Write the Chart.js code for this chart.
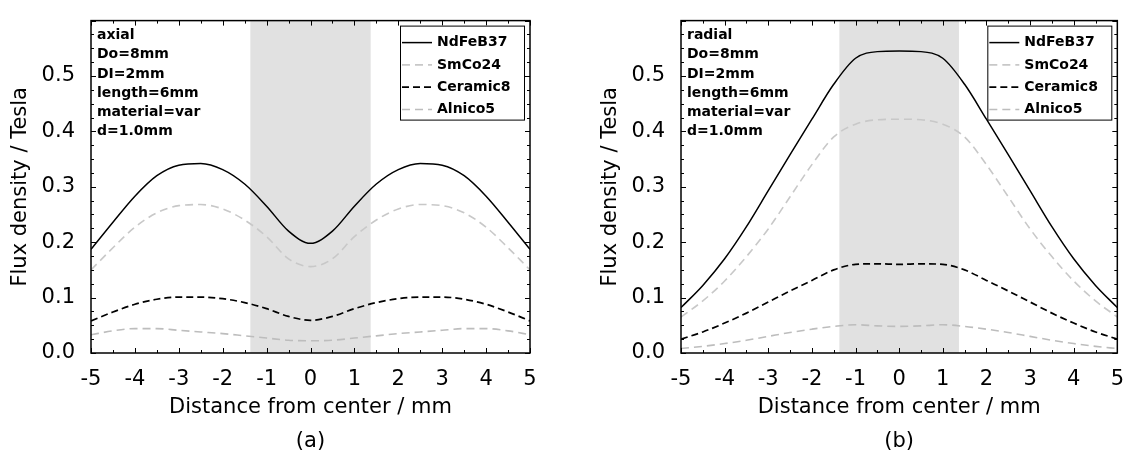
<!DOCTYPE html>
<html>
<head>
<meta charset="utf-8">
<script src="https://cdn.jsdelivr.net/npm/chart.js@4.4.0/dist/chart.umd.min.js"></script>
<style>
  html, body { margin: 0; padding: 0; background: #fff; }
  .panel { position: absolute; top: 0; height: 461px; }
  #wrap-a { left: 0; width: 560px; }
  #wrap-b { left: 590px; width: 540px; }
</style>
</head>
<body>
<div class="panel" id="wrap-a"><canvas id="chart-a"></canvas></div>
<div class="panel" id="wrap-b"><canvas id="chart-b"></canvas></div>
<script>
// distance from center (mm)
var POSITIONS = [-5, -4.5, -4, -3.5, -3, -2.5, -2, -1.5, -1, -0.5, 0, 0.5, 1, 1.5, 2, 2.5, 3, 3.5, 4, 4.5, 5];

// (a) axial
var AXIAL_NDFEB37 = [0.187, 0.236, 0.283, 0.320, 0.339, 0.342, 0.331, 0.305, 0.265, 0.220, 0.198, 0.220, 0.265, 0.305, 0.331, 0.342, 0.339, 0.320, 0.283, 0.236, 0.187];
var AXIAL_SMCO24 = [0.150, 0.190, 0.227, 0.253, 0.266, 0.268, 0.260, 0.240, 0.210, 0.170, 0.156, 0.170, 0.210, 0.240, 0.260, 0.268, 0.266, 0.253, 0.227, 0.190, 0.150];
var AXIAL_CERAMIC8 = [0.058, 0.074, 0.088, 0.097, 0.101, 0.101, 0.098, 0.091, 0.080, 0.066, 0.059, 0.066, 0.080, 0.091, 0.098, 0.101, 0.101, 0.097, 0.088, 0.074, 0.058];
var AXIAL_ALNICO5 = [0.033, 0.040, 0.044, 0.044, 0.041, 0.038, 0.035, 0.031, 0.027, 0.023, 0.022, 0.023, 0.027, 0.031, 0.035, 0.038, 0.041, 0.044, 0.044, 0.040, 0.033];

// (b) radial
var RADIAL_NDFEB37 = [0.082, 0.122, 0.170, 0.228, 0.293, 0.358, 0.422, 0.485, 0.532, 0.544, 0.545, 0.544, 0.532, 0.485, 0.422, 0.358, 0.293, 0.228, 0.170, 0.122, 0.082];
var RADIAL_SMCO24 = [0.065, 0.094, 0.130, 0.174, 0.224, 0.282, 0.340, 0.390, 0.413, 0.421, 0.422, 0.421, 0.413, 0.390, 0.340, 0.282, 0.224, 0.174, 0.130, 0.094, 0.065];
var RADIAL_CERAMIC8 = [0.025, 0.038, 0.054, 0.072, 0.092, 0.112, 0.131, 0.150, 0.160, 0.161, 0.160, 0.161, 0.160, 0.150, 0.131, 0.112, 0.092, 0.072, 0.054, 0.038, 0.025];
var RADIAL_ALNICO5 = [0.008, 0.012, 0.017, 0.023, 0.030, 0.037, 0.043, 0.048, 0.051, 0.049, 0.048, 0.049, 0.051, 0.048, 0.043, 0.037, 0.030, 0.023, 0.017, 0.012, 0.008];

var SERIES_NAMES = ['NdFeB37', 'SmCo24', 'Ceramic8', 'Alnico5'];
var X_TICKS = [-5, -4, -3, -2, -1, 0, 1, 2, 3, 4, 5];
var Y_TICKS = [0.0, 0.1, 0.2, 0.3, 0.4, 0.5];
var MAGNET_SPAN = [-1.37, 1.37]; // shaded region

var AXIAL_NOTES = ['axial', 'Do=8mm', 'DI=2mm', 'length=6mm', 'material=var', 'd=1.0mm'];
var RADIAL_NOTES = ['radial', 'Do=8mm', 'DI=2mm', 'length=6mm', 'material=var', 'd=1.0mm'];

var FONT = '"DejaVu Sans", Verdana, sans-serif';
Chart.defaults.font.family = FONT;
Chart.defaults.color = '#000';

var STYLES = [
  { color: '#000000', dash: [], width: 1.5 },
  { color: '#c8c8c8', dash: [8, 5], width: 1.6 },
  { color: '#000000', dash: [7, 4], width: 1.7 },
  { color: '#bdbdbd', dash: [8, 5], width: 1.6 }
];

function pairs(values) {
  return POSITIONS.map(function (x, i) { return { x: x, y: values[i] }; });
}

/* ---- shaded band, frame, inner ticks, legend, notes ---- */
var decorPlugin = {
  id: 'decor',
  beforeDatasetsDraw: function (chart) {
    var ctx = chart.ctx, area = chart.chartArea, xs = chart.scales.x;
    var x0 = xs.getPixelForValue(MAGNET_SPAN[0]);
    var x1 = xs.getPixelForValue(MAGNET_SPAN[1]);
    ctx.save();
    ctx.fillStyle = '#e1e1e1';
    ctx.fillRect(x0, area.top, x1 - x0, area.bottom - area.top);
    ctx.restore();
  },
  afterDraw: function (chart) {
    var ctx = chart.ctx, area = chart.chartArea;
    var xs = chart.scales.x, ys = chart.scales.y;
    var opts = chart.options.plugins.decor;
    ctx.save();

    // inner ticks on all four sides
    ctx.strokeStyle = '#000';
    ctx.lineWidth = 1;
    ctx.beginPath();
    for (var i = 0; i <= 20; i++) {
      var xv = -5 + i * 0.5;
      var px = Math.round(xs.getPixelForValue(xv)) + 0.5;
      var len = (i % 2 === 0) ? 5 : 3;
      ctx.moveTo(px, area.bottom); ctx.lineTo(px, area.bottom - len);
      ctx.moveTo(px, area.top); ctx.lineTo(px, area.top + len);
    }
    for (var j = 0; j <= 24; j++) {
      var yv = j * 0.025;
      var py = Math.round(ys.getPixelForValue(yv)) + 0.5;
      var ylen = (j % 4 === 0) ? 5 : 3;
      ctx.moveTo(area.left, py); ctx.lineTo(area.left + ylen, py);
      ctx.moveTo(area.right, py); ctx.lineTo(area.right - ylen, py);
    }
    ctx.stroke();

    // frame
    ctx.lineWidth = 1.5;
    ctx.strokeRect(area.left, area.top, area.right - area.left, area.bottom - area.top);

    // notes
    ctx.fillStyle = '#000';
    ctx.font = 'bold 14px ' + FONT;
    ctx.textBaseline = 'middle';
    ctx.textAlign = 'left';
    opts.notes.forEach(function (t, k) {
      ctx.fillText(t, area.left + 6, area.top + 15 + k * 19.2);
    });

    // legend box
    var bx = area.right - 130, by = area.top + 5, bw = 124, bh = 94;
    ctx.fillStyle = '#fff';
    ctx.fillRect(bx, by, bw, bh);
    ctx.lineWidth = 1;
    ctx.strokeStyle = '#000';
    ctx.strokeRect(bx + 0.5, by + 0.5, bw, bh);
    chart.data.datasets.forEach(function (ds, k) {
      var ly = by + 17 + k * 22.3;
      ctx.beginPath();
      ctx.setLineDash(ds.borderDash || []);
      ctx.strokeStyle = ds.borderColor;
      ctx.lineWidth = ds.borderWidth;
      ctx.moveTo(bx + 2, ly);
      ctx.lineTo(bx + 32, ly);
      ctx.stroke();
      ctx.setLineDash([]);
      ctx.fillStyle = '#000';
      ctx.fillText(ds.label, bx + 37, ly);
    });

    // panel caption
    ctx.font = '21px ' + FONT;
    ctx.textAlign = 'center';
    ctx.fillText(opts.caption, (area.left + area.right) / 2, 442);
    ctx.restore();
  }
};

function makeChart(id, series, notes, caption, rightPad) {
  var datasets = series.map(function (vals, k) {
    return {
      label: SERIES_NAMES[k],
      data: pairs(vals),
      borderColor: STYLES[k].color,
      borderDash: STYLES[k].dash,
      borderWidth: STYLES[k].width,
      pointRadius: 0,
      cubicInterpolationMode: 'monotone',
      fill: false
    };
  });

  return new Chart(document.getElementById(id), {
    type: 'line',
    data: { datasets: datasets },
    plugins: [decorPlugin],
    options: {
      responsive: true,
      maintainAspectRatio: false,
      animation: false,
      devicePixelRatio: 1,
      layout: { padding: { top: 8, right: rightPad, bottom: 38, left: 0 } },
      plugins: {
        legend: { display: false },
        tooltip: { enabled: false },
        decor: { notes: notes, caption: caption }
      },
      scales: {
        x: {
          type: 'linear',
          min: -5,
          max: 5,
          afterBuildTicks: function (s) { s.ticks = X_TICKS.map(function (v) { return { value: v }; }); },
          afterFit: function (s) { s.height = 70; },
          grid: { display: false },
          border: { display: false },
          ticks: {
            font: { size: 21 },
            color: '#000',
            padding: 6,
            maxRotation: 0,
            callback: function (v) { return String(v); }
          },
          title: {
            display: true,
            text: 'Distance from center / mm',
            font: { size: 21 },
            color: '#000',
            padding: { top: 0, bottom: 3 }
          }
        },
        y: {
          min: 0,
          max: 0.6,
          afterBuildTicks: function (s) { s.ticks = Y_TICKS.map(function (v) { return { value: v }; }); },
          afterFit: function (s) { s.width = 91; },
          grid: { display: false },
          border: { display: false },
          ticks: {
            font: { size: 21 },
            color: '#000',
            padding: 8,
            callback: function (v) { return v.toFixed(1); }
          },
          title: {
            display: true,
            text: 'Flux density / Tesla',
            font: { size: 21 },
            color: '#000',
            padding: { top: 8, bottom: 0 }
          }
        }
      }
    }
  });
}

makeChart('chart-a', [AXIAL_NDFEB37, AXIAL_SMCO24, AXIAL_CERAMIC8, AXIAL_ALNICO5], AXIAL_NOTES, '(a)', 30);
makeChart('chart-b', [RADIAL_NDFEB37, RADIAL_SMCO24, RADIAL_CERAMIC8, RADIAL_ALNICO5], RADIAL_NOTES, '(b)', 10);
</script>
</body>
</html>
